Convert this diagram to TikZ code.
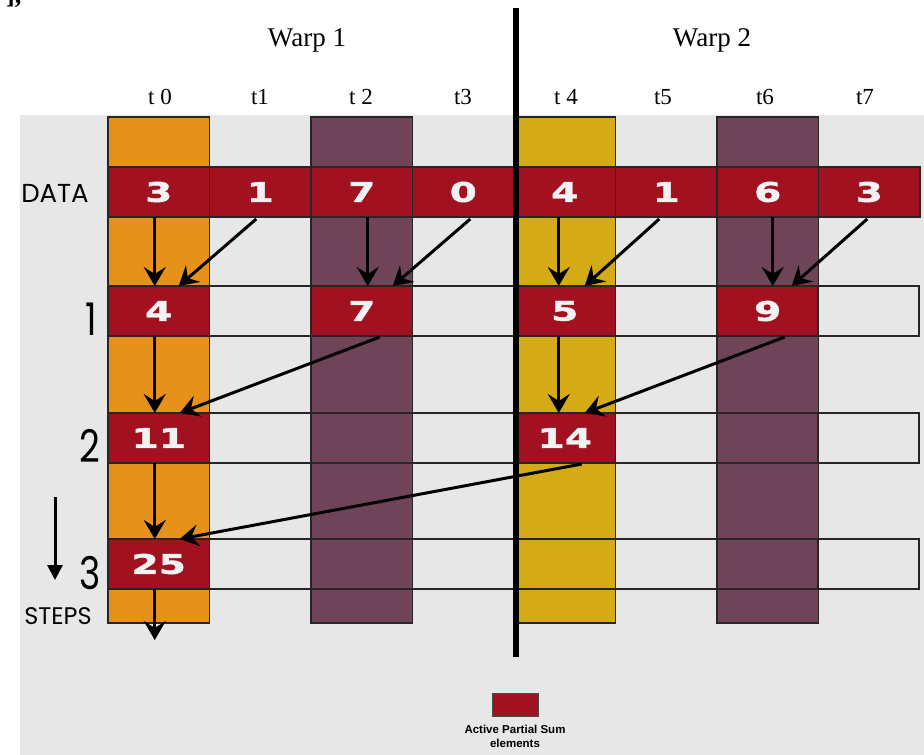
\documentclass[tikz,border=0pt]{standalone}
\usepackage{fontspec}
\setmainfont{Liberation Serif}
\newfontfamily\numfont[FakeStretch=1.45,FakeBold=1.6]{DejaVu Sans}
\newfontfamily\labfont{Poppins}
\newfontfamily\biglabfont[FakeStretch=0.8]{Poppins}
\newfontfamily\legfont{Liberation Sans}
\usetikzlibrary{arrows.meta,calc}
\definecolor{bgray}{HTML}{E7E7E7}
\definecolor{corange}{HTML}{E69119}
\definecolor{cpurple}{HTML}{6F4458}
\definecolor{cyellow}{HTML}{D4AA17}
\definecolor{cred}{HTML}{A2111F}
\definecolor{cwhite}{HTML}{F2F2F2}
\begin{document}
\begin{tikzpicture}[x=1pt,y=-1pt,
  cell/.style={draw=black!85, line width=1.2pt, minimum width=101.5pt, minimum height=50pt, inner sep=0pt, outer sep=0pt},
  emptycell/.style={cell},
  active/.style={cell, fill=cred, text=cwhite, font=\numfont\bfseries\fontsize{27}{27}\selectfont},
  colbar/.style={draw=black!85, line width=1.2pt, minimum width=101.5pt, minimum height=506pt, inner sep=0pt, outer sep=0pt},
  arr/.style={line width=3pt, -{Stealth[length=19pt,width=22pt,inset=7pt]}},
  steparr/.style={line width=3pt, -{Triangle[length=15pt,width=15pt]}},
  warplab/.style={anchor=base, font=\fontsize{27}{27}\selectfont},
  tlab/.style={anchor=base, font=\fontsize{23}{23}\selectfont},
  rowlab/.style={anchor=base, font=\biglabfont\fontsize{45}{45}\selectfont},
  sidelab/.style={anchor=base, font=\labfont\fontsize{26}{26}\selectfont},
  legtext/.style={anchor=base, font=\legfont\bfseries\fontsize{11.5}{13}\selectfont}
]
\useasboundingbox (0,0) rectangle (924,755);
% background
\fill[bgray] (20,115) rectangle (924,755);
% fragment of text at the top
\node[anchor=base west, inner sep=0pt, font=\bfseries\fontsize{26}{26}\selectfont] (frag) at (6,3) {],};
% coloured thread columns
\node[colbar, fill=corange] (col0) at (158.75,370) {};
\node[colbar, fill=cpurple] (col2) at (361.75,370) {};
\node[colbar, fill=cyellow] (col4) at (564.75,370) {};
\node[colbar, fill=cpurple] (col6) at (767.75,370) {};
% data row
\foreach \v [count=\i from 0] in {3,1,7,0,4,1,6,3}
  \node[active] (d\i) at (158.75+101.5*\i,192) {\v};
% row 1
\node[active] (a0) at (158.75,311) {4};
\node[emptycell] (a1) at (260.25,311) {};
\node[active] (a2) at (361.75,311) {7};
\node[emptycell] (a3) at (463.25,311) {};
\node[active] (a4) at (564.75,311) {5};
\node[emptycell] (a5) at (666.25,311) {};
\node[active] (a6) at (767.75,311) {9};
\node[emptycell] (a7) at (868.25,311) {};
% row 2
\node[active] (b0) at (158.75,438) {11};
\node[emptycell] (b1) at (260.25,438) {};
\node[emptycell] (b2) at (361.75,438) {};
\node[emptycell] (b3) at (463.25,438) {};
\node[active] (b4) at (564.75,438) {14};
\node[emptycell] (b5) at (666.25,438) {};
\node[emptycell] (b6) at (767.75,438) {};
\node[emptycell] (b7) at (868.25,438) {};
% row 3
\node[active] (c0) at (158.75,564) {25};
\node[emptycell] (c1) at (260.25,564) {};
\node[emptycell] (c2) at (361.75,564) {};
\node[emptycell] (c3) at (463.25,564) {};
\node[emptycell] (c4) at (564.75,564) {};
\node[emptycell] (c5) at (666.25,564) {};
\node[emptycell] (c6) at (767.75,564) {};
\node[emptycell] (c7) at (868.25,564) {};
% arrows data -> step 1
\draw[arr] ([xshift=-4pt]d0.south) -- ([xshift=-4pt]a0.north);
\draw[arr] ([xshift=-4pt,yshift=-2pt]d1.south) -- ([xshift=20pt]a0.north);
\draw[arr] ([xshift=6pt]d2.south) -- ([xshift=6pt]a2.north);
\draw[arr] ([xshift=7pt,yshift=-2pt]d3.south) -- ([xshift=31pt]a2.north);
\draw[arr] ([xshift=-6pt]d4.south) -- ([xshift=-6pt]a4.north);
\draw[arr] ([xshift=-7pt,yshift=-2pt]d5.south) -- ([xshift=20pt]a4.north);
\draw[arr] ([xshift=5pt]d6.south) -- ([xshift=5pt]a6.north);
\draw[arr] ([xshift=-2pt,yshift=-2pt]d7.south) -- ([xshift=24pt]a6.north);
% step 1 -> step 2
\draw[arr] ([xshift=-4pt]a0.south) -- ([xshift=-4pt]b0.north);
\draw[arr] ([xshift=18pt,yshift=-1pt]a2.south) -- ([xshift=21pt]b0.north);
\draw[arr] ([xshift=-6pt]a4.south) -- ([xshift=-6pt]b4.north);
\draw[arr] ([xshift=17pt,yshift=-1pt]a6.south) -- ([xshift=20pt]b4.north);
% step 2 -> step 3
\draw[arr] ([xshift=-4pt]b0.south) -- ([xshift=-4pt]c0.north);
\draw[arr] ([xshift=17pt,yshift=-1pt]b4.south) -- ([xshift=21pt]c0.north);
% step 3 -> onward
\coordinate (outend) at (154.75,640);
\draw[arr] ([xshift=-4pt]c0.south) -- (outend);
% warp separator
\coordinate (septop) at (516,8);
\coordinate (sepbot) at (516,657);
\draw[line width=6pt] (septop) -- (sepbot);
% steps arrow
\coordinate (st1) at (55,497);
\coordinate (st2) at (55,580);
\draw[steparr] (st1) -- (st2);
% labels
\node[warplab] (w1) at (307,46) {Warp 1};
\node[warplab] (w2) at (712,46) {Warp 2};
\node[tlab] (t0) at (160,104) {t 0};
\node[tlab] (t1) at (260,104) {t1};
\node[tlab] (t2) at (361,104) {t 2};
\node[tlab] (t3) at (463,104) {t3};
\node[tlab] (t4) at (566,104) {t 4};
\node[tlab] (t5) at (663,104) {t5};
\node[tlab] (t6) at (765,104) {t6};
\node[tlab] (t7) at (865,104) {t7};
\node[sidelab] (datalab) at (55,202) {DATA};
\node[sidelab, font=\labfont\fontsize{24}{24}\selectfont] (stepslab) at (58,624) {STEPS};
\node[rowlab] (r1) at (91,335) {1};
\node[rowlab] (r2) at (90,462) {2};
\node[rowlab] (r3) at (90,589) {3};
% legend
\node[draw=black!70, line width=0.8pt, fill=cred, minimum width=46pt, minimum height=23pt, inner sep=0pt] (leg) at (515,704.5) {};
\node[legtext] (leg1) at (515,733) {Active Partial Sum};
\node[legtext] (leg2) at (515,747) {elements};
\end{tikzpicture}
\end{document}
